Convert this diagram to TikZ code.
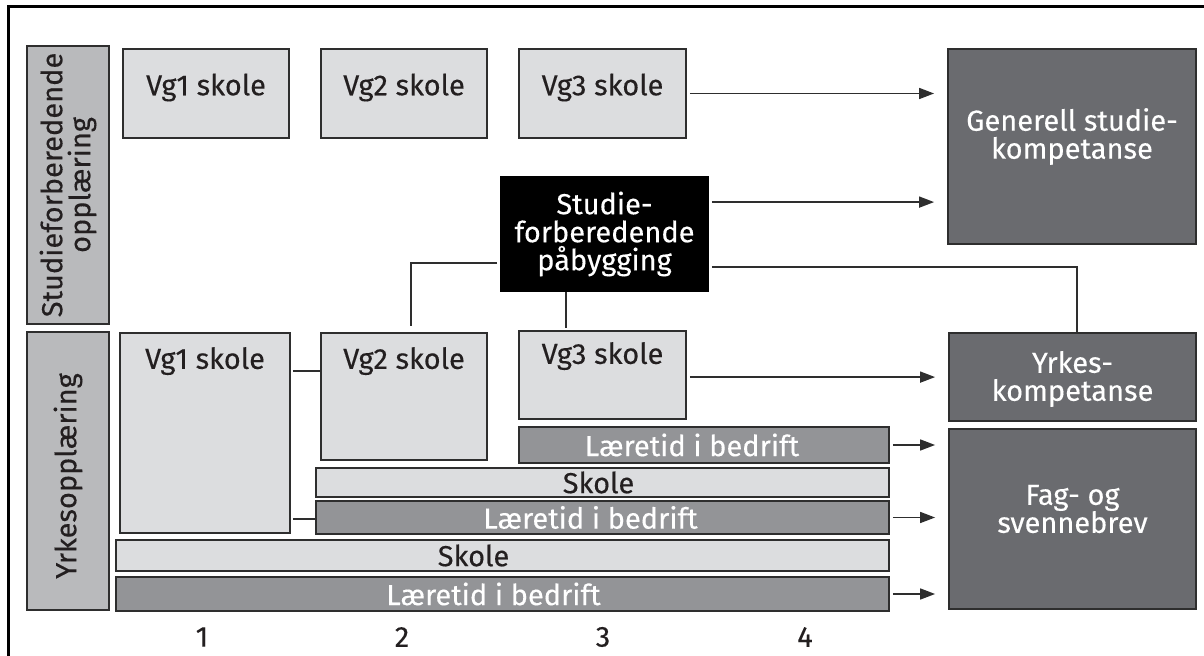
\documentclass[tikz,border=0pt]{standalone}
\usepackage{fontspec}
\setmainfont{Fira Sans}[FakeBold=0.25]
\usetikzlibrary{calc,fit,positioning,arrows.meta}
\definecolor{boxlight}{HTML}{DCDDDF}
\definecolor{boxmid}{HTML}{939497}
\definecolor{boxdark}{HTML}{6A6B6F}
\definecolor{boxside}{HTML}{B9BABC}
\definecolor{edgegrey}{HTML}{2E2E2E}
\definecolor{textdark}{HTML}{231F20}

\begin{document}
\begin{tikzpicture}[x=0.5pt,y=-0.5pt,font=\fontsize{14.5}{14}\selectfont]

\tikzset{box/.style={draw=edgegrey,line width=0.9pt,inner sep=0pt},
lightbox/.style={box,fill=boxlight},
midbox/.style={box,fill=boxmid},
darkbox/.style={box,fill=boxdark},
sidebox/.style={box,fill=boxside},
blackbox/.style={box,fill=black,draw=black},
dtext/.style={text=textdark,align=center,inner sep=0pt},
wtext/.style={text=white,align=center,inner sep=0pt},
conn/.style={draw=edgegrey,line width=0.8pt},
arr/.style={conn,shorten <=1.5pt,shorten >=6.5pt,-{Triangle[length=7.5pt,width=5.5pt]}}}

\useasboundingbox (0,0) rectangle (1204,656);

% Frame
\draw[line width=1.5pt] (8,700) |- (1250,7);

% Side labels
\node[sidebox,fit={(27,46) (109,324)}] (studBox) {};
\node[dtext,rotate=90] (studLabel) at (studBox.center) {Studieforberedende\\opplæring};
\node[sidebox,fit={(27,332) (109,610)}] (yrkBox) {};
\node[dtext,rotate=90] (yrkLabel) at ($(yrkBox.center)+(0,5)$) {Yrkesopplæring};

% Studieforberedende
\node[lightbox,fit={(123,49) (289,138)}] (vg1s) {};
\node[lightbox,fit={(321,49) (487,138)}] (vg2s) {};
\node[lightbox,fit={(519,49) (686,138)}] (vg3s) {};
\node[blackbox,fit={(501,177) (708,291)}] (pab) {};
\foreach \v in {1,2,3} \node[dtext] (vg\v sText) at ($(vg\v s.center)+(0,-6)$) {Vg\v\ skole};
\node[wtext] (pabText) at (pab.center) {Studie-\\forberedende\\påbygging};

% Yrkesfag
\node[lightbox,fit={(120,333) (290,533)}] (vg1y) {};
\node[lightbox,fit={(321,333) (487,460)}] (vg2y) {};
\node[lightbox,fit={(519,331) (686,419)}] (vg3y) {};
\node[dtext] (vg1yText) at ($(vg1y.north)+(0,29)$) {Vg1 skole};
\node[dtext] (vg2yText) at ($(vg2y.north)+(0,29)$) {Vg2 skole};
\node[dtext] (vg3yText) at ($(vg3y.north)+(0,26)$) {Vg3 skole};

% Bars
\node[midbox,fit={(519,427) (889,463)}] (laer1) {};
\node[lightbox,fit={(316,468) (889,497)}] (skole2) {};
\node[midbox,fit={(316,501) (889,534)}] (laer3) {};
\node[lightbox,fit={(116,540) (889,571)}] (skole4) {};
\node[midbox,fit={(116,577) (889,611)}] (laer5) {};
\node[wtext] (laer1Text) at ($(laer1.center)+(-12,0)$) {Læretid i bedrift};
\node[dtext] (skole2Text) at ($(skole2.center)+(-4,0)$) {Skole};
\node[wtext] (laer3Text) at ($(laer3.center)+(-12,0)$) {Læretid i bedrift};
\node[dtext] (skole4Text) at ($(skole4.center)+(-29,0)$) {Skole};
\node[wtext] (laer5Text) at ($(laer5.center)+(-9,0)$) {Læretid i bedrift};

% Outcomes
\node[darkbox,fit={(948,49) (1196,244)}] (genKomp) {};
\node[darkbox,fit={(949,333) (1196,421)}] (yrkKomp) {};
\node[darkbox,fit={(949,429) (1196,609)}] (fagBrev) {};
\node[wtext] (genText) at ($(genKomp.center)+(0,-10)$) {Generell studie-\\kompetanse};
\node[wtext] (yrkText) at ($(yrkKomp.center)+(0,2)$) {Yrkes-\\kompetanse};
\node[wtext] (fagText) at ($(fagBrev.center)+(0,-10)$) {Fag- og\\svennebrev};

% Years
\foreach \n/\x in {1/202,2/402,3/603,4/805} \node[dtext] (year\n) at (\x,637) {\n};

% Connectors
\coordinate (pabA) at ($(pab.north east)+(0,26)$);
\coordinate (pabB) at ($(pab.south east)+(3,-25)$);
\coordinate (pabC) at ($(pab.south west)+(-3,-29)$);
\coordinate (vg3yA) at ($(vg3y.north east)+(0,47)$);
\coordinate (vg1yA) at ($(vg1y.north east)+(2,39)$);
\coordinate (vg1yB) at ($(vg1y.south east)+(2,-15)$);

\draw[arr] (vg3s.east) -- (vg3s.east -| genKomp.west);
\draw[arr] (pabA) -- (pabA -| genKomp.west);
\draw[conn] (pabB) -| ($(yrkKomp.north west)+(129,0)$);
\draw[conn] (pabC) -| ($(vg2y.north west)+(91,-6)$);
\draw[conn] ($(pab.south west)+(66,0)$) -- ($(vg3y.north west)+(48,-2)$);
\draw[arr] (vg3yA) -- (vg3yA -| yrkKomp.west);
\draw[conn] (vg1yA) -- (vg1yA -| vg2y.west);
\draw[conn] (vg1yB) -- (vg1yB -| laer3.west);
\draw[arr] (laer1.east) -- (laer1.east -| fagBrev.west);
\draw[arr] (laer3.east) -- (laer3.east -| fagBrev.west);
\draw[arr] (laer5.east) -- (laer5.east -| fagBrev.west);

\end{tikzpicture}
\end{document}
